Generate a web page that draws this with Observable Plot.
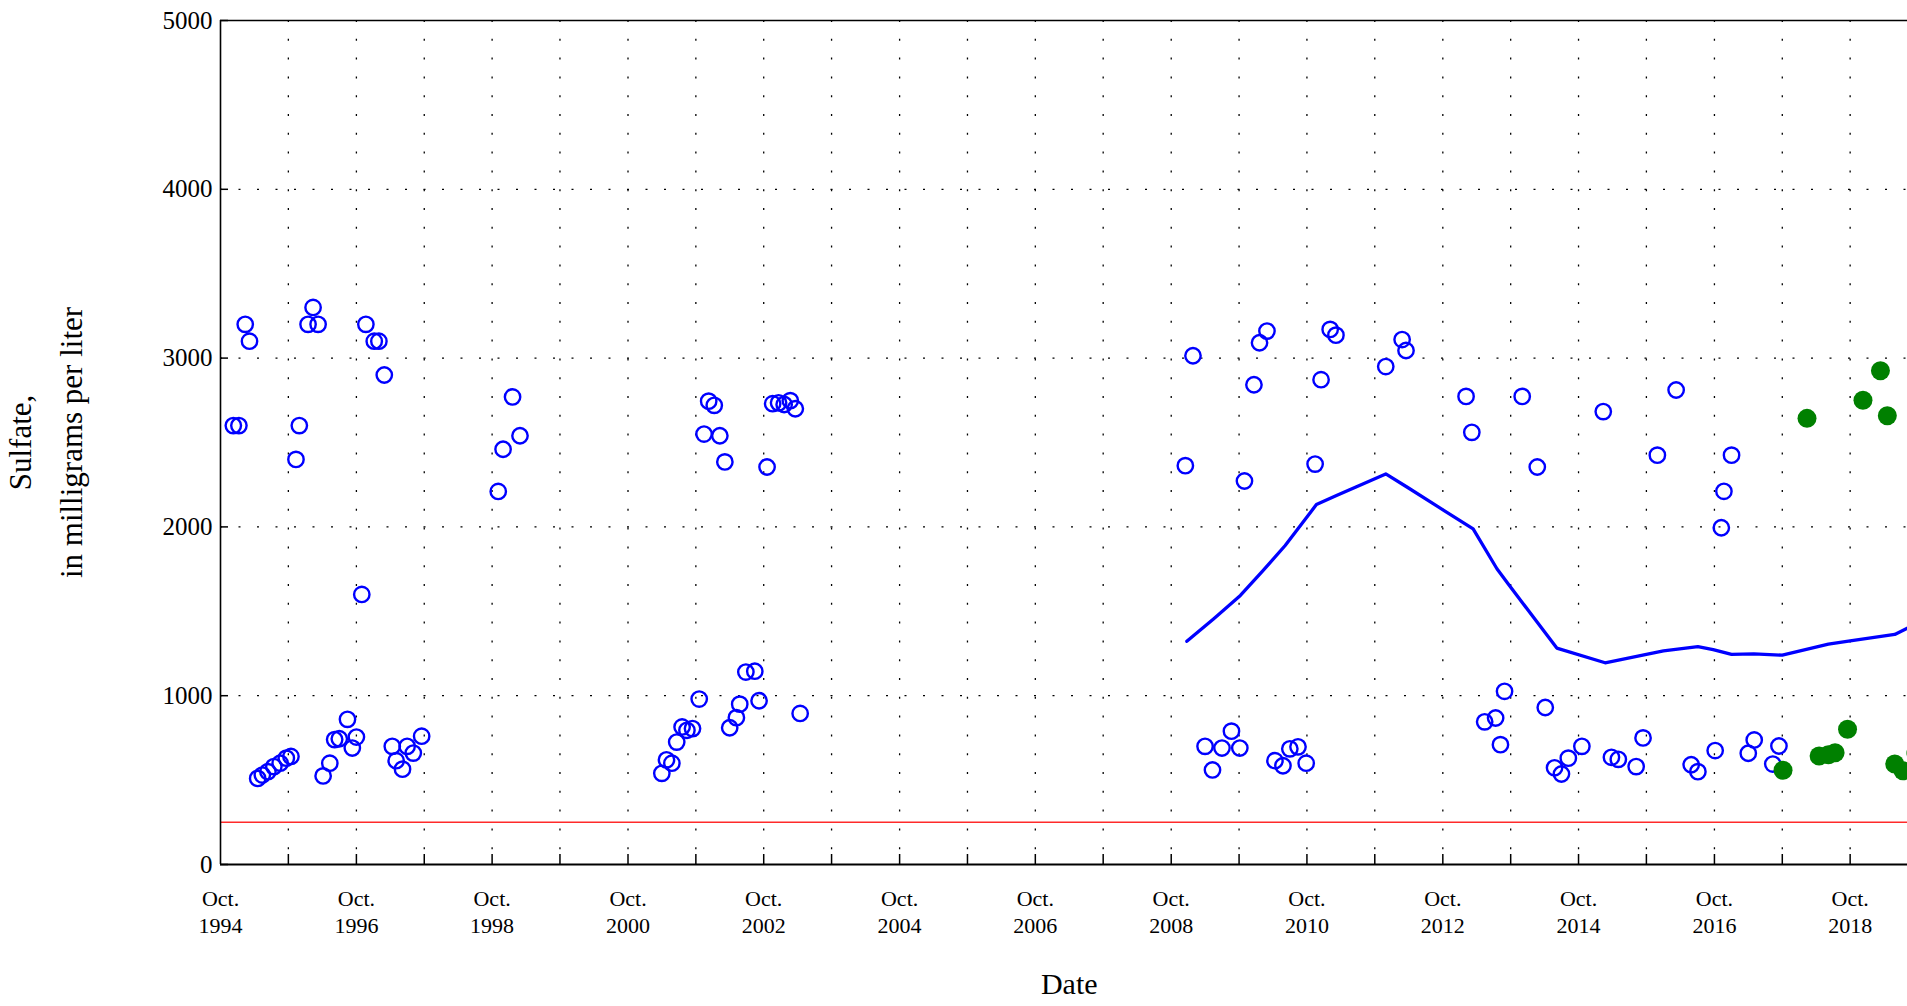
<!DOCTYPE html>
<html>
<head>
<meta charset="utf-8">
<script src="https://cdn.jsdelivr.net/npm/d3@7"></script>
<script src="https://cdn.jsdelivr.net/npm/@observablehq/plot@0.6"></script>
<style>
  html, body { margin: 0; padding: 0; background: #fff; overflow: hidden; }
  svg { max-width: none !important; }
</style>
</head>
<body>
<div id="chart"></div>
<script>
// ---- Data: measured samples (open blue circles) ----
const blueDates = [
  "1994-12-09","1995-01-08","1995-02-11","1995-03-06","1995-04-19","1995-05-14","1995-06-13","1995-07-15",
  "1995-08-18","1995-09-20","1995-10-15","1995-11-11","1995-11-29","1996-01-15","1996-02-11","1996-03-09",
  "1996-04-05","1996-05-11","1996-06-06","1996-07-01","1996-08-14","1996-09-09","1996-10-01","1996-10-30",
  "1996-11-21","1997-01-05","1997-01-30","1997-02-28","1997-04-12","1997-05-03","1997-06-06","1997-07-01",
  "1997-08-03","1997-09-17",
  "1998-11-03","1998-11-29","1999-01-19","1999-02-28",
  "2001-04-01","2001-04-26","2001-05-25","2001-06-20","2001-07-19","2001-08-14","2001-09-13","2001-10-19",
  "2001-11-14","2001-12-09","2002-01-08","2002-02-07","2002-03-06","2002-04-01","2002-05-07","2002-05-25",
  "2002-06-27","2002-08-14","2002-09-06","2002-10-19","2002-11-18","2002-12-20","2003-01-19","2003-02-21",
  "2003-03-20","2003-04-15",
  "2008-12-16","2009-01-26","2009-04-01","2009-05-11","2009-07-01","2009-08-21","2009-10-05","2009-10-30",
  "2009-12-20","2010-01-19","2010-02-28","2010-04-12","2010-05-25","2010-07-01","2010-08-14","2010-09-27",
  "2010-11-14","2010-12-16","2011-02-03","2011-03-06","2011-11-29","2012-02-25","2012-03-17","2013-02-03",
  "2013-03-06","2013-05-14","2013-07-12","2013-08-07","2013-08-29","2013-12-02","2014-02-21","2014-04-05",
  "2014-05-25","2014-07-01","2014-08-07","2014-10-19","2015-02-11","2015-03-27","2015-05-03","2015-08-07",
  "2015-09-13","2015-11-29","2016-03-09","2016-05-29","2016-07-04","2016-10-05","2016-11-07","2016-11-21",
  "2017-01-01","2017-04-01","2017-05-03","2017-08-11","2017-09-13"
];
const blueValues = [
  2600,2600,3200,3100,510,530,550,580,
  600,630,640,2400,2600,3200,3300,3200,
  525,600,740,745,860,690,755,1600,
  3200,3100,3100,2900,700,615,565,700,
  660,760,
  2210,2460,2770,2540,
  540,620,600,725,815,795,805,980,
  2550,2745,2720,2540,2385,810,870,950,
  1140,1145,970,2355,2730,2735,2725,2748,
  2700,895,
  2363,3014,700,560,690,790,690,2272,
  2842,3091,3160,615,585,685,697,600,
  2372,2872,3170,3136,2950,3110,3045,2773,
  2560,845,868,710,1026,2773,2355,930,
  573,536,630,700,2683,635,623,580,
  750,2425,2811,591,550,675,1995,2211,
  2425,659,738,595,702
];

// ---- Data: recent samples (filled green circles) ----
const greenDates = [
  "2017-10-05","2018-02-11","2018-04-17","2018-06-06","2018-07-12","2018-09-17",
  "2018-12-09","2019-03-13","2019-04-19","2019-05-29","2019-07-12","2019-09-20"
];
const greenValues = [558,2643,643,650,662,801,2750,2925,2658,595,555,660];

// ---- Data: trend line ----
const trendDates = [
  "2008-12-24","2009-05-18","2009-10-08","2010-02-03","2010-06-06","2010-11-21","2011-03-09","2011-11-29",
  "2012-03-24","2012-10-08","2013-03-13","2013-07-19","2013-09-20","2014-06-06","2015-02-21","2015-10-01",
  "2016-01-01","2016-07-04","2016-09-24","2017-01-01","2017-05-01","2017-10-01","2018-06-06","2018-10-01",
  "2019-05-29","2019-08-15"
];
const trendValues = [
  1322,1456,1594,1736,1890,2132,2186,2314,
  2235,2097,1988,1752,1659,1282,1195,1245,
  1266,1291,1273,1245,1248,1240,1305,1325,
  1363,1405
];

// ---- Reference level and axis ticks ----
const standardValue = [250];
const yTickValues = [0, 1000, 2000, 3000, 4000, 5000];
const yGridValues = [1000, 2000, 3000, 4000];
const xStartLabel = "1994-10-01";
const xEndLabel = "2019-10-01";
const tickYearList = d3.range(1995, 2020);
const labelYearList = d3.range(1994, 2019, 2);

const parse = d3.utcParse("%Y-%m-%d");
const blue = blueDates.map((d, i) => ({date: parse(d), value: blueValues[i]}));
const green = greenDates.map((d, i) => ({date: parse(d), value: greenValues[i]}));
const trend = trendDates.map((d, i) => ({date: parse(d), value: trendValues[i]}));
const xStart = parse(xStartLabel), xEnd = parse(xEndLabel);
const yearTicks = tickYearList.map(y => parse(`${y}-10-01`));
const labelTicks = labelYearList.map(y => parse(`${y}-10-01`));

const serif = "'Liberation Serif', 'Times New Roman', Times, serif";

const chart = Plot.plot({
  width: 1938,
  height: 1006,
  marginLeft: 220,
  marginRight: 20.5,
  marginTop: 20,
  marginBottom: 142,
  x: {type: "utc", domain: [xStart, xEnd]},
  y: {domain: [0, 5000]},
  style: {fontFamily: serif, background: "white", maxWidth: "none", color: "black"},
  marks: [
    // dotted grid
    Plot.ruleY(yGridValues, {stroke: "black", strokeWidth: 1.3, strokeDasharray: "2,16.5"}),
    Plot.ruleX(yearTicks, {stroke: "black", strokeWidth: 1.3, strokeDasharray: "2,16.8"}),
    // standard line
    Plot.ruleY(standardValue, {stroke: "#ff2a2a", strokeWidth: 1.4}),
    // frame
    Plot.ruleX([xStart], {stroke: "black", strokeWidth: 1.6}),
    Plot.ruleX([xEnd], {stroke: "black", strokeWidth: 1.6}),
    Plot.ruleY([0], {stroke: "black", strokeWidth: 1.8}),
    Plot.ruleY([5000], {stroke: "black", strokeWidth: 1.6}),
    // inward ticks
    Plot.ruleX(yearTicks, {y1: 0, y2: 0, insetBottom: 10, stroke: "black", strokeWidth: 1.5}),
    Plot.ruleY(yTickValues, {x1: xStart, x2: xStart, insetRight: -8, stroke: "black", strokeWidth: 1.5}),
    // trend
    Plot.line(trend, {x: "date", y: "value", stroke: "#0000ff", strokeWidth: 3.3}),
    // samples
    Plot.dot(blue, {x: "date", y: "value", r: 7.7, stroke: "#0000ff", strokeWidth: 2.4, fill: "none"}),
    Plot.dot(green, {x: "date", y: "value", r: 9.5, fill: "#008000", stroke: "none"}),
    // axes
    Plot.axisX(labelTicks, {
      tickSize: 0, tickPadding: 22, fontSize: 22, lineHeight: 1.24, label: null,
      tickFormat: d => "Oct.\n" + d.getUTCFullYear()
    }),
    Plot.axisY(yTickValues, {
      tickSize: 0, tickPadding: 8, fontSize: 25, label: null,
      tickFormat: d => String(d)
    }),
    // axis titles
    Plot.text(["Sulfate,\nin milligrams per liter"], {
      frameAnchor: "left", rotate: -90, dx: -180, fontSize: 31, lineHeight: 1.65,
      textAnchor: "middle", lineAnchor: "middle"
    }),
    Plot.text(["Date"], {
      frameAnchor: "bottom", dy: 120, fontSize: 30, textAnchor: "middle", lineAnchor: "middle"
    })
  ]
});
document.getElementById("chart").append(chart);
</script>
</body>
</html>
